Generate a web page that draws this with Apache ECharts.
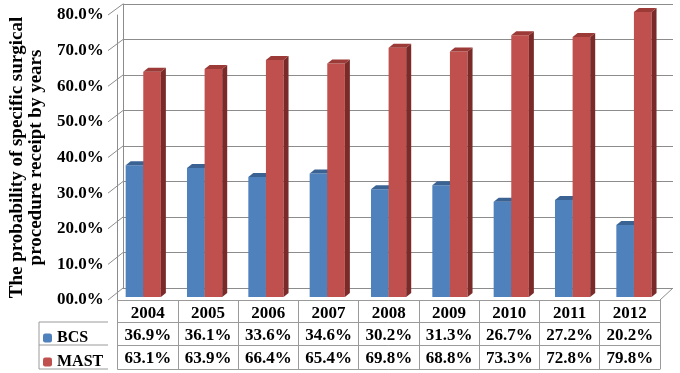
<!DOCTYPE html>
<html>
<head>
<meta charset="utf-8">
<script src="https://cdn.jsdelivr.net/npm/echarts@6/dist/echarts.min.js"></script>
<style>
  html, body { margin: 0; padding: 0; background: #fff; }
  #chart { width: 680px; height: 373px; }
</style>
</head>
<body>
<div id="chart"></div>
<script>
const years = ['2004', '2005', '2006', '2007', '2008', '2009', '2010', '2011', '2012']
const bcs = [36.9, 36.1, 33.6, 34.6, 30.2, 31.3, 26.7, 27.2, 20.2]
const mast = [63.1, 63.9, 66.4, 65.4, 69.8, 68.8, 73.3, 72.8, 79.8]
const yTicks = [0, 10, 20, 30, 40, 50, 60, 70, 80]
const yTickLabels = ['00.0%', '10.0%', '20.0%', '30.0%', '40.0%', '50.0%', '60.0%', '70.0%', '80.0%']

const FONT = 'Liberation Serif'
const LINE = '#9a9a9a'
const WALL = '#8c8c8c'
// 3d depth of the bars
const DX = 5, DY = -4

const chart = echarts.init(document.getElementById('chart'))

const fmt = v => v.toFixed(1) + '%'

// draws one box-like column; slot 0 = left of the category centre, 1 = right
const bar3d = (slot, face, top, side) => (params, api) => {
  const idx = api.value(0)
  const base = api.coord([idx, 0])
  const head = api.coord([idx, api.value(1)])
  const w = api.size([1, 0])[0] * 0.287
  const x0 = base[0] - w + slot * w
  const ty = head[1], by = base[1]
  return {
    type: 'group',
    children: [
      { type: 'rect', shape: { x: x0, y: ty, width: w, height: by - ty }, style: { fill: face } },
      { type: 'polygon', shape: { points: [[x0 + w, ty], [x0 + w + DX, ty + DY], [x0 + w + DX, by + DY], [x0 + w, by]] }, style: { fill: side } },
      { type: 'polygon', shape: { points: [[x0, ty], [x0 + w, ty], [x0 + w + DX, ty + DY], [x0 + DX, ty + DY]] }, style: { fill: top } }
    ]
  }
}

const tableAxis = (offset, rows, showTick) => ({
  type: 'category',
  gridIndex: 0,
  position: 'bottom',
  offset: offset,
  data: years,
  axisLine: { show: true, lineStyle: { color: LINE } },
  axisTick: { show: showTick, interval: 0, length: 69, lineStyle: { color: LINE } },
  axisLabel: {
    show: !!rows,
    interval: 0,
    margin: 5,
    fontFamily: FONT,
    fontWeight: 'bold',
    fontSize: 17,
    color: '#000',
    formatter: (v, i) => rows ? rows[i] : ''
  }
})

const legendText = { fontFamily: FONT, fontWeight: 'bold', fontSize: 16, color: '#000', lineHeight: 20 }

const option = {
  animation: false,
  grid: [
    { left: 108, right: 20, top: 15, bottom: 73 },   // front edge + table
    { left: 123, right: 7, top: 4, bottom: 85 },     // back wall
    { left: 112.6, right: 15.4, top: 11.4, bottom: 76 } // bars
  ],
  legend: [
    { data: ['BCS'], left: 38, top: 323, itemWidth: 9, itemHeight: 9, itemGap: 5, textStyle: legendText },
    { data: ['MAST'], left: 38, top: 347, itemWidth: 9, itemHeight: 9, itemGap: 5, textStyle: legendText }
  ],
  xAxis: [
    tableAxis(0, years, true),
    tableAxis(22, bcs.map(fmt), false),
    tableAxis(45, mast.map(fmt), false),
    tableAxis(69, null, false),
    { type: 'category', gridIndex: 1, data: years, show: false },
    { type: 'category', gridIndex: 2, data: years, show: false }
  ],
  yAxis: [
    {
      type: 'value', gridIndex: 0, min: 0, max: 80, interval: 10,
      name: 'The probability of specific surgical\nprocedure receipt by years',
      nameLocation: 'middle', nameRotate: 90, nameGap: 61,
      nameTextStyle: { fontFamily: FONT, fontWeight: 'bold', fontSize: 19, color: '#000', lineHeight: 19 },
      axisLine: { show: true, lineStyle: { color: WALL } },
      axisTick: { show: false },
      splitLine: { show: false },
      axisLabel: {
        margin: 14, fontFamily: FONT, fontWeight: 'bold', fontSize: 17, color: '#000',
        formatter: v => yTickLabels[yTicks.indexOf(v)]
      }
    },
    {
      type: 'value', gridIndex: 1, min: 0, max: 80, interval: 10,
      axisLine: { show: true, lineStyle: { color: WALL } },
      axisTick: { show: false },
      axisLabel: { show: false },
      splitLine: { show: true, lineStyle: { color: WALL } }
    },
    { type: 'value', gridIndex: 2, min: 0, max: 80, show: false }
  ],
  series: [
    {
      name: 'BCS', type: 'custom', xAxisIndex: 5, yAxisIndex: 2,
      itemStyle: { color: '#4F81BD' },
      renderItem: bar3d(0, '#4F81BD', '#3A6394', '#385D8A'),
      data: bcs.map((v, i) => [i, v])
    },
    {
      name: 'MAST', type: 'custom', xAxisIndex: 5, yAxisIndex: 2,
      itemStyle: { color: '#C0504D' },
      renderItem: bar3d(1, '#C0504D', '#9B3A37', '#7A2B29'),
      data: mast.map((v, i) => [i, v])
    }
  ]
}

chart.setOption(option)

// side wall / floor edges joining the front scale to the back wall, plus legend cell borders
const frontX = 108, backX = 123, backRight = 673, frontRight = 660
const lines = yTicks.map(v => {
  const yf = chart.convertToPixel({ yAxisIndex: 0 }, v)
  const yb = chart.convertToPixel({ yAxisIndex: 1 }, v)
  return { type: 'line', shape: { x1: frontX, y1: yf, x2: backX, y2: yb }, style: { stroke: WALL, lineWidth: 1 } }
})
const yf0 = chart.convertToPixel({ yAxisIndex: 0 }, 0)
const yb0 = chart.convertToPixel({ yAxisIndex: 1 }, 0)
lines.push({ type: 'line', shape: { x1: frontRight, y1: yf0, x2: backRight, y2: yb0 }, style: { stroke: WALL, lineWidth: 1 } })
const rowLines = [yf0 + 22, yf0 + 45, yf0 + 69]
rowLines.forEach(y => {
  lines.push({ type: 'line', shape: { x1: 39, y1: y, x2: frontX, y2: y }, style: { stroke: LINE, lineWidth: 1 } })
})
lines.push({ type: 'line', shape: { x1: 39, y1: rowLines[0], x2: 39, y2: rowLines[2] }, style: { stroke: LINE, lineWidth: 1 } })
chart.setOption({ graphic: lines.map(l => Object.assign(l, { silent: true })) })
</script>
</body>
</html>
